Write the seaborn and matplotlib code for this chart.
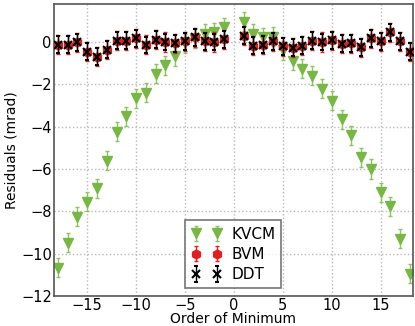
import numpy as np
import pandas as pd
import matplotlib
matplotlib.use("Agg")
import matplotlib.pyplot as plt
import seaborn as sns

# Order of minimum (no 0th order)
orders = list(range(-18, 0)) + list(range(1, 19))

kvcm = [-10.66, -9.48, -8.25, -7.55, -6.9, -5.6, -4.25, -3.5, -2.65, -2.4,
        -1.5, -1.1, -0.67, -0.05, 0.15, 0.38, 0.47, 0.7,
        0.95, 0.4, 0.23, 0.25, -0.4, -0.88, -1.27, -1.6, -2.2, -2.78,
        -3.66, -4.4, -5.45, -6.0, -7.1, -7.75, -9.3, -10.95]
bvm = [-0.13, -0.13, -0.02, -0.45, -0.69, -0.36, 0.06, 0.06, 0.17, -0.14,
       0.11, 0.0, -0.06, 0.03, 0.22, 0.03, 0.0, 0.14,
       0.3, -0.17, -0.13, 0.03, -0.2, -0.28, -0.17, 0.06, 0.0, 0.09,
       -0.09, -0.06, -0.25, 0.17, 0.03, 0.46, 0.03, -0.45]
ddt = bvm
err_kvcm = 0.45
err_bvm = 0.45
err_ddt = 0.4

df = pd.DataFrame({"order": orders, "KVCM": kvcm, "BVM": bvm, "DDT": ddt})

sns.set_theme(style="whitegrid")
plt.rcParams["font.family"] = ["DejaVu Sans"]
plt.rcParams["text.color"] = "black"
plt.rcParams["axes.labelcolor"] = "black"
plt.rcParams["xtick.color"] = "black"
plt.rcParams["ytick.color"] = "black"
plt.rcParams["grid.color"] = "#b8b8b8"
plt.rcParams["grid.linestyle"] = ":"

fig = plt.figure(figsize=(4.15, 3.26), dpi=100)
ax = fig.add_axes([0.130, 0.092, 0.865, 0.896])

green = "#76b843"
red = "#e0201e"

ax.errorbar(df["order"], df["KVCM"], yerr=err_kvcm, fmt="v", color=green,
            ecolor="#8cc460", ms=7.5, mec=green, capsize=1.5, elinewidth=1,
            label="KVCM", zorder=2)
ax.errorbar(df["order"], df["BVM"], yerr=err_bvm, fmt="h", color=red,
            ecolor=red, ms=6.5, mec=red, capsize=1.5, elinewidth=1,
            label="BVM", zorder=3)
ax.errorbar(df["order"], df["DDT"], yerr=err_ddt, fmt="x", color="black",
            ecolor="black", ms=5.5, mew=1.5, capsize=1.5, elinewidth=1,
            label="DDT", zorder=4)

ax.set_xlim(-18.4, 18.3)
ax.set_ylim(-12, 1.8)
ax.set_xticks([-15, -10, -5, 0, 5, 10, 15])
ax.set_yticks([-12, -10, -8, -6, -4, -2, 0])
ax.tick_params(labelsize=10.5, direction="in", length=0, pad=1.5)
ax.set_xlabel("Order of Minimum", fontsize=10, labelpad=-0.5)
ax.set_ylabel("Residuals (mrad)", fontsize=10, labelpad=2)
for s in ax.spines.values():
    s.set_color("#555555")
    s.set_linewidth(1.2)

leg = ax.legend(loc="lower center", numpoints=2, fontsize=11, frameon=True,
                fancybox=False, handletextpad=0.6, borderaxespad=0.5,
                labelspacing=0.35)
leg.get_frame().set_edgecolor("#555555")
leg.get_frame().set_linewidth(1.2)

fig.savefig("out.png", dpi=100)
